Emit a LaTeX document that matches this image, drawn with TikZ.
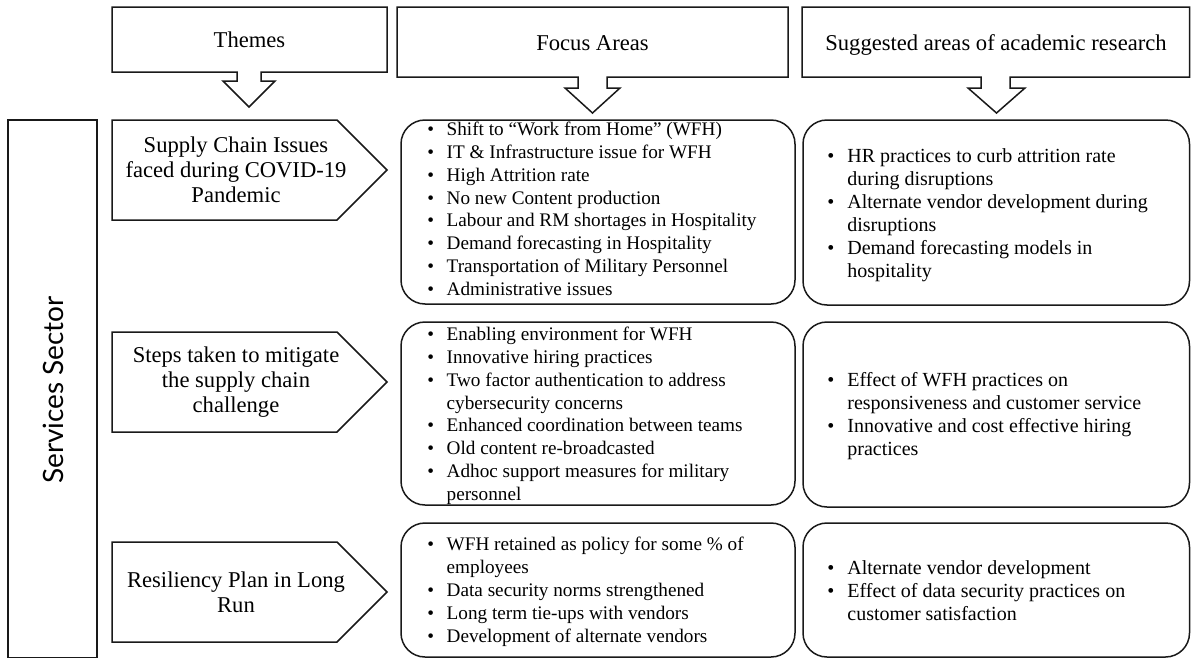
\documentclass[tikz,border=0pt]{standalone}
\usepackage{fontspec}
\setmainfont{Liberation Serif}
\newfontfamily\sectorfont{Lato}
\usepackage{tikz}
\usetikzlibrary{positioning, calc}

\tikzset{
    outline/.style={draw=black!90, line width=0.75pt, line join=miter},
    roundbox/.style={outline, rounded corners=12pt},
    headtext/.style={anchor=base, inner sep=0pt, font=\fontsize{11.3}{13.5}\selectfont},
    themetext/.style={align=center, inner sep=0pt, font=\fontsize{11.3}{12.6}\selectfont},
    focuslist/.style={anchor=west, inner sep=0pt, font=\fontsize{9.6}{11.4}\selectfont},
    researchlist/.style={anchor=west, inner sep=0pt, font=\fontsize{10}{11.5}\selectfont}
}
\newcommand{\bl}{\textbullet}

\begin{document}
\begin{tikzpicture}[x=0.5pt, y=-0.5pt]
    \useasboundingbox (0,0) rectangle (1191,659);

    % Header boxes with down arrows
    \draw[outline] (112,7) -- (387,7) -- (387,72) -- (261,72) -- (261,81) -- (275,81)
        -- (249,107) -- (223,81) -- (237,81) -- (237,72) -- (112,72) -- cycle;
    \node[headtext] (hthemes) at (249.5,47) {Themes};

    \draw[outline] (397,7) -- (788,7) -- (788,77) -- (607,77) -- (607,88) -- (620,88)
        -- (592.5,113) -- (565,88) -- (578,88) -- (578,77) -- (397,77) -- cycle;
    \node[headtext] (hfocus) at (592.5,50) {Focus Areas};

    \draw[outline] (802,7) -- (1189.5,7) -- (1189.5,77) -- (1010,77) -- (1010,88) -- (1025,88)
        -- (996.5,113) -- (968,88) -- (981,88) -- (981,77) -- (802,77) -- cycle;
    \node[headtext] (hresearch) at (996,50) {Suggested areas of academic research};

    % Sector column
    \draw[outline] (8,120) rectangle (97,657.5);
    \node[rotate=90, inner sep=0pt, font=\sectorfont\fontsize{14}{16}\selectfont] (sector) at (53,390) {Services Sector};

    % Theme arrows
    \draw[outline] (112,120) -- (337,120) -- (387,170) -- (337,220) -- (112,220) -- cycle;
    \node[themetext] (tissues) at (236,170) {Supply Chain Issues\\faced during COVID-19\\Pandemic};

    \draw[outline] (112,332) -- (337,332) -- (387,382) -- (337,432) -- (112,432) -- cycle;
    \node[themetext] (tsteps) at (236,382) {Steps taken to mitigate\\the supply chain\\challenge};

    \draw[outline] (112,542) -- (337,542) -- (387,592) -- (337,642) -- (112,642) -- cycle;
    \node[themetext] (tplan) at (236,592) {Resiliency Plan in Long\\Run};

    % Focus areas
    \draw[roundbox] (401,120) rectangle (795,304);
    \node[focuslist] (fissues) at (427,211) {\begin{tabular}{@{}l@{\hspace{6.3pt}}l@{}}
        \bl & Shift to “Work from Home” (WFH)\\
        \bl & IT \& Infrastructure issue for WFH\\
        \bl & High Attrition rate\\
        \bl & No new Content production\\
        \bl & Labour and RM shortages in Hospitality\\
        \bl & Demand forecasting in Hospitality\\
        \bl & Transportation of Military Personnel\\
        \bl & Administrative issues
    \end{tabular}};

    \draw[roundbox] (401,322) rectangle (795,505);
    \node[focuslist] (fsteps) at (427,416) {\begin{tabular}{@{}l@{\hspace{6.3pt}}l@{}}
        \bl & Enabling environment for WFH\\
        \bl & Innovative hiring practices\\
        \bl & Two factor authentication to address\\
            & cybersecurity concerns\\
        \bl & Enhanced coordination between teams\\
        \bl & Old content re-broadcasted\\
        \bl & Adhoc support measures for military\\
            & personnel
    \end{tabular}};

    \draw[roundbox] (401,523) rectangle (795,657);
    \node[focuslist] (fplan) at (427,592) {\begin{tabular}{@{}l@{\hspace{6.3pt}}l@{}}
        \bl & WFH retained as policy for some \% of\\
            & employees\\
        \bl & Data security norms strengthened\\
        \bl & Long term tie-ups with vendors\\
        \bl & Development of alternate vendors
    \end{tabular}};

    % Suggested research areas
    \draw[roundbox] (803,120) rectangle (1189.5,305);
    \node[researchlist] (rissues) at (827,215) {\begin{tabular}{@{}l@{\hspace{6.5pt}}l@{}}
        \bl & HR practices to curb attrition rate\\
            & during disruptions\\
        \bl & Alternate vendor development during\\
            & disruptions\\
        \bl & Demand forecasting models in\\
            & hospitality
    \end{tabular}};

    \draw[roundbox] (803,322) rectangle (1189.5,507);
    \node[researchlist] (rsteps) at (827,416) {\begin{tabular}{@{}l@{\hspace{6.5pt}}l@{}}
        \bl & Effect of WFH practices on\\
            & responsiveness and customer service\\
        \bl & Innovative and cost effective hiring\\
            & practices
    \end{tabular}};

    \draw[roundbox] (803,523) rectangle (1189.5,657);
    \node[researchlist] (rplan) at (827,593) {\begin{tabular}{@{}l@{\hspace{6.5pt}}l@{}}
        \bl & Alternate vendor development\\
        \bl & Effect of data security practices on\\
            & customer satisfaction
    \end{tabular}};
\end{tikzpicture}
\end{document}
